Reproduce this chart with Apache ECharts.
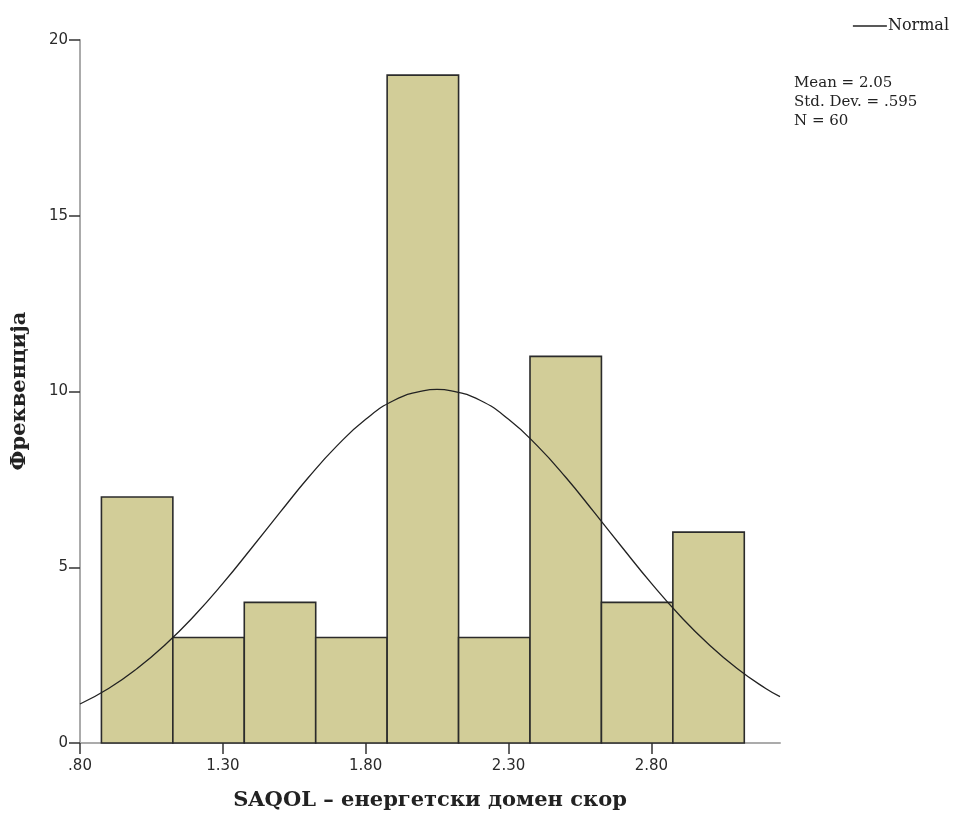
<!DOCTYPE html>
<html>
<head>
<meta charset="utf-8">
<script src="https://cdn.jsdelivr.net/npm/echarts@6/dist/echarts.min.js"></script>
<style>html,body{margin:0;padding:0;background:#fff}#c{width:954px;height:818px}</style>
</head>
<body>
<div id="c"></div>
<script>
// Histogram bins (lower edges and upper edges) and frequencies
const binLow  = [0.875, 1.125, 1.375, 1.625, 1.875, 2.125, 2.375, 2.625, 2.875];
const binHigh = [1.125, 1.375, 1.625, 1.875, 2.125, 2.375, 2.625, 2.875, 3.125];
const counts  = [7, 3, 4, 3, 19, 3, 11, 4, 6];
// Normal curve points
const curveX = [0.80, 0.90, 1.00, 1.10, 1.20, 1.30, 1.40, 1.50, 1.60, 1.70, 1.80, 1.90, 2.00, 2.05, 2.10, 2.20, 2.30, 2.40, 2.50, 2.60, 2.70, 2.80, 2.90, 3.00, 3.10, 3.20, 3.25];
const curveY = [1.11, 1.55, 2.12, 2.81, 3.62, 4.54, 5.54, 6.56, 7.56, 8.46, 9.21, 9.75, 10.02, 10.06, 10.02, 9.75, 9.21, 8.46, 7.56, 6.56, 5.54, 4.54, 3.62, 2.81, 2.12, 1.55, 1.32];
// Tick labels
const xTicks = [0.80, 1.30, 1.80, 2.30, 2.80];
const xTickLabels = ['.80', '1.30', '1.80', '2.30', '2.80'];
const yTicks = [0, 5, 10, 15, 20];
const statsLines = ['Mean = 2.05', 'Std. Dev. = .595', 'N = 60'];
const xTitle = 'SAQOL – енергетски домен скор';
const yTitle = 'Фреквенција';

const chart = echarts.init(document.getElementById('c'), null, {renderer: 'canvas'});
const serif = '"DejaVu Serif", "Liberation Serif", serif';
const sans = '"DejaVu Sans", "Liberation Sans", sans-serif';

const barData = counts.map((c, i) => [binLow[i], binHigh[i], c]);
const curveData = curveX.map((x, i) => [x, curveY[i]]);

chart.setOption({
  animation: false,
  backgroundColor: '#fff',
  grid: {left: 80, right: 174, top: 40, bottom: 75, containLabel: false},
  legend: {
    right: 0, top: 13,
    data: [{name: 'Normal', icon: 'rect'}],
    itemWidth: 34, itemHeight: 1.4, itemGap: 2,
    textStyle: {fontFamily: serif, fontSize: 16, color: '#222', padding: [0,0,0,-4]}
  },
  xAxis: {
    type: 'value', min: 0.8, max: 3.25,
    axisLine: {show: true, onZero: false, lineStyle: {color: '#ababab', width: 2}},
    axisTick: {show: true, customValues: xTicks, length: 11, lineStyle: {color: '#333', width: 1.5}},
    axisLabel: {
      customValues: xTicks, margin: 16,
      formatter: v => { const i = xTicks.findIndex(t => Math.abs(t - v) < 1e-6); return i >= 0 ? xTickLabels[i] : ''; },
      fontFamily: sans, fontSize: 15, color: '#2a2a2a'
    },
    splitLine: {show: false}
  },
  yAxis: {
    type: 'value', min: 0, max: 20, interval: 5,
    axisLine: {show: true, lineStyle: {color: '#ababab', width: 2}},
    axisTick: {show: true, length: 11, lineStyle: {color: '#333', width: 1.5}},
    axisLabel: {margin: 12, fontFamily: sans, fontSize: 15, color: '#2a2a2a',
      formatter: v => yTicks.indexOf(v) >= 0 ? String(v) : ''},
    splitLine: {show: false}
  },
  graphic: [
    {type: 'text', left: 794, top: 74, style: {text: statsLines.join('\n'), font: '15px ' + serif, fill: '#222', lineHeight: 19}},
    {type: 'text', x: 430, y: 801, style: {text: xTitle, font: 'bold 21px ' + serif, fill: '#222', align: 'center', verticalAlign: 'middle'}},
    {type: 'text', x: 20, y: 391, rotation: Math.PI / 2, style: {text: yTitle, font: 'bold 21px ' + serif, fill: '#222', align: 'center', verticalAlign: 'middle'}}
  ],
  series: [
    {
      type: 'custom', name: 'Frequency', z: 2,
      data: barData,
      encode: {x: [0, 1], y: 2},
      renderItem: function (params, api) {
        const p0 = api.coord([api.value(0), 0]);
        const p1 = api.coord([api.value(1), api.value(2)]);
        return {
          type: 'rect',
          shape: {x: p0[0], y: p1[1], width: p1[0] - p0[0], height: p0[1] - p1[1]},
          style: {fill: '#d2cd98', stroke: '#2b2b2b', lineWidth: 1.6}
        };
      }
    },
    {
      type: 'line', name: 'Normal', z: 5,
      data: curveData, smooth: true, showSymbol: false, symbol: 'none',
      lineStyle: {color: '#222', width: 1.3},
      itemStyle: {color: '#222'}
    }
  ]
});
</script>
</body>
</html>
